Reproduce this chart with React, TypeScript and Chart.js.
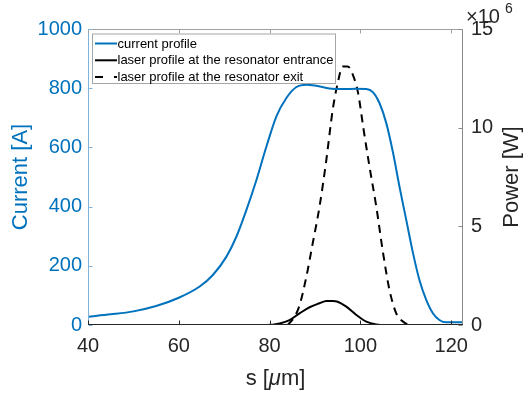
import React, { useEffect, useRef } from "react";
import { Chart, registerables } from "chart.js";

Chart.register(...registerables);

const FONT = "'Liberation Sans', Arial, Helvetica, sans-serif";
const BLUE = "#0072BD";
const DARK = "#262626";

const X_MIN = 40;
const X_MAX = 122.6;
const xTicks = [40, 60, 80, 100, 120];
const currentTicks = [0, 200, 400, 600, 800, 1000];
const powerTicks = [0, 5, 10, 15]; // ×10^6 W

const seriesLabels = [
  "current profile",
  "laser profile at the resonator entrance",
  "laser profile at the resonator exit",
];

// current profile [A]
const sCurrent = [40, 45, 50, 55, 60, 64.6, 67.5, 70.5, 72.7, 74.9, 77.1, 79.3, 81.5, 83.7, 85.9, 88.1, 90.3, 93.2, 96.1, 99.1, 101.3, 102.8, 104.2, 105.7, 107.2, 108.6, 110.1, 111.6, 113, 114.5, 116, 117.4, 118.9, 120, 122.6];
const current = [28, 36, 46, 64, 92, 130, 169, 231, 299, 389, 490, 603, 705, 767, 804, 812, 808, 799, 797, 798, 797, 786, 750, 682, 581, 468, 355, 242, 152, 85, 39, 17, 9, 9, 9];

// laser power at resonator entrance [×10^6 W]
const sEntrance = [40, 79.3, 82.2, 84.4, 86.6, 88.8, 91, 92.5, 93.9, 95, 96.9, 99.1, 101.3, 103.5, 105.7, 122.6];
const powerEntrance = [0, 0, 0.08, 0.25, 0.59, 0.9, 1.1, 1.22, 1.22, 1.18, 0.93, 0.51, 0.17, 0.03, 0, 0];

// laser power at resonator exit [×10^6 W]
const sExit = [84, 85.5, 86.6, 88.1, 89.5, 91, 92.5, 93.9, 95, 96.1, 97.2, 98.3, 99.5, 100.6, 102, 103.5, 105, 106.4, 107.9, 109.4, 111.2, 113];
const powerExit = [0, 0.42, 1.0, 2.45, 4.14, 6.0, 8.37, 10.9, 12.26, 13.1, 13.1, 12.7, 11.75, 10.06, 8.03, 6.0, 3.64, 1.78, 0.59, 0.17, 0, 0];

const EXIT_DASH = [8, 6];

const toPoints = (xs: number[], ys: number[]) => xs.map((x, i) => ({ x, y: ys[i] }));

const decorPlugin = {
  id: "decor",
  afterDatasetsDraw(chart: any) {
    const { ctx, chartArea, scales } = chart;
    const { left, right, top, bottom } = chartArea;
    const seg = (x1: number, y1: number, x2: number, y2: number, color: string, w = 1, dash: number[] = []) => {
      ctx.beginPath();
      ctx.strokeStyle = color;
      ctx.lineWidth = w;
      ctx.setLineDash(dash);
      ctx.moveTo(x1, y1);
      ctx.lineTo(x2, y2);
      ctx.stroke();
    };
    ctx.save();
    const L = Math.round(left) + 0.5;
    const R = Math.round(right) - 0.5;
    const T = Math.round(top) + 0.5;
    const B = Math.round(bottom) - 0.5;
    // frame
    seg(L, T, R, T, "#a0a0a0");
    seg(R, T, R, B, "#8a8a8a");
    seg(L, T, L, B, "#7fb3dc");
    seg(L, B, R, B, DARK);
    // inward ticks
    const tl = 4;
    xTicks.forEach((v) => {
      const px = Math.round(scales.x.getPixelForValue(v)) + 0.5;
      seg(px, B, px, B - tl, DARK);
      seg(px, T, px, T + tl, "#a0a0a0");
    });
    currentTicks.forEach((v) => {
      const py = Math.round(scales.y.getPixelForValue(v)) + 0.5;
      seg(L, py, L + tl, py, "#7fb3dc");
    });
    powerTicks.forEach((v) => {
      const py = Math.round(scales.y2.getPixelForValue(v)) + 0.5;
      seg(R, py, R - tl, py, "#8a8a8a");
    });

    // legend
    const bx = 92, by = 33.5, bw = 243, bh = 49.5;
    ctx.setLineDash([]);
    ctx.fillStyle = "#ffffff";
    ctx.fillRect(bx, by, bw, bh);
    ctx.strokeStyle = "#a6a6a6";
    ctx.lineWidth = 1;
    ctx.strokeRect(bx + 0.5, by + 0.5, bw, bh);
    const rows = [43.5, 60.3, 77];
    const styles = [
      { color: BLUE, dash: [] as number[] },
      { color: "#000", dash: [] as number[] },
      { color: "#000", dash: [8, 11] },
    ];
    ctx.font = `13px ${FONT}`;
    ctx.textBaseline = "middle";
    ctx.textAlign = "left";
    seriesLabels.forEach((lab, i) => {
      seg(95, rows[i], 117, rows[i], styles[i].color, 2, styles[i].dash);
      ctx.setLineDash([]);
      ctx.fillStyle = "#000";
      ctx.fillText(lab, 117.5, rows[i] + 0.5);
    });

    // ×10^6 exponent label
    ctx.fillStyle = DARK;
    ctx.textBaseline = "alphabetic";
    ctx.font = `20px ${FONT}`;
    ctx.fillText("×10", 466, 23);
    ctx.font = `14px ${FONT}`;
    ctx.fillText("6", 505, 13);

    // x axis title with italic mu
    const cx = (left + right) / 2;
    const partsX = [
      { t: "s [", f: `22px ${FONT}` },
      { t: "μ", f: `italic 22px ${FONT}` },
      { t: "m]", f: `22px ${FONT}` },
    ];
    let total = 0;
    partsX.forEach((p) => {
      ctx.font = p.f;
      total += ctx.measureText(p.t).width;
    });
    let xx = cx - total / 2;
    ctx.textAlign = "left";
    ctx.fillStyle = DARK;
    partsX.forEach((p) => {
      ctx.font = p.f;
      ctx.fillText(p.t, xx, 385);
      xx += ctx.measureText(p.t).width;
    });

    // right axis title
    ctx.save();
    ctx.translate(518, (top + bottom) / 2);
    ctx.rotate(-Math.PI / 2);
    ctx.textAlign = "center";
    ctx.textBaseline = "alphabetic";
    ctx.font = `22px ${FONT}`;
    ctx.fillStyle = DARK;
    ctx.fillText("Power [W]", 0, 0);
    ctx.restore();

    ctx.restore();
  },
};

export default function App() {
  const ref = useRef<HTMLCanvasElement | null>(null);

  useEffect(() => {
    document.body.style.margin = "0";
    Chart.defaults.font.family = FONT;
    const canvas = ref.current;
    if (!canvas) return;
    const chart = new Chart(canvas, {
      type: "line",
      data: {
        datasets: [
          {
            label: seriesLabels[0],
            data: toPoints(sCurrent, current),
            borderColor: BLUE,
            borderWidth: 2,
            yAxisID: "y",
            cubicInterpolationMode: "monotone",
            pointRadius: 0,
            fill: false,
          },
          {
            label: seriesLabels[1],
            data: toPoints(sEntrance, powerEntrance),
            borderColor: "#000",
            borderWidth: 2,
            yAxisID: "y2",
            cubicInterpolationMode: "monotone",
            pointRadius: 0,
            fill: false,
          },
          {
            label: seriesLabels[2],
            data: toPoints(sExit, powerExit),
            borderColor: "#000",
            borderWidth: 2,
            borderDash: EXIT_DASH,
            yAxisID: "y2",
            cubicInterpolationMode: "monotone",
            pointRadius: 0,
            fill: false,
          },
        ],
      },
      options: {
        animation: false,
        responsive: false,
        maintainAspectRatio: false,
        layout: { padding: { top: 29, left: 0, right: 0, bottom: 0 } },
        plugins: { legend: { display: false }, tooltip: { enabled: false } },
        scales: {
          x: {
            type: "linear",
            min: X_MIN,
            max: X_MAX,
            afterBuildTicks: (s: any) => {
              s.ticks = xTicks.map((v) => ({ value: v }));
            },
            grid: { display: false, drawTicks: false },
            border: { display: false },
            ticks: { color: DARK, font: { size: 20 }, padding: 9, maxRotation: 0, autoSkip: false, callback: (v: any) => String(v) },
            title: { display: false },
            afterFit: (s: any) => {
              s.height = 72;
            },
          },
          y: {
            type: "linear",
            position: "left",
            min: 0,
            max: 1000,
            afterBuildTicks: (s: any) => {
              s.ticks = currentTicks.map((v) => ({ value: v }));
            },
            grid: { display: false, drawTicks: false },
            border: { display: false },
            ticks: { color: BLUE, font: { size: 20 }, padding: 6, callback: (v: any) => String(v) },
            title: { display: true, text: "Current [A]", color: BLUE, font: { size: 22 }, padding: { top: 8, bottom: 0 } },
            afterFit: (s: any) => {
              s.width = 88;
            },
          },
          y2: {
            type: "linear",
            position: "right",
            min: 0,
            max: 15,
            afterBuildTicks: (s: any) => {
              s.ticks = powerTicks.map((v) => ({ value: v }));
            },
            grid: { display: false, drawTicks: false },
            border: { display: false },
            ticks: { color: DARK, font: { size: 20 }, padding: 8, callback: (v: any) => String(v) },
            afterFit: (s: any) => {
              s.width = 62;
            },
          },
        },
      },
      plugins: [decorPlugin],
    } as any);
    return () => chart.destroy();
  }, []);

  return (
    <div style={{ position: "fixed", left: 0, top: 0, width: 525, height: 397, background: "#fff" }}>
      <canvas ref={ref} width={525} height={397} style={{ width: 525, height: 397, display: "block" }} />
    </div>
  );
}
